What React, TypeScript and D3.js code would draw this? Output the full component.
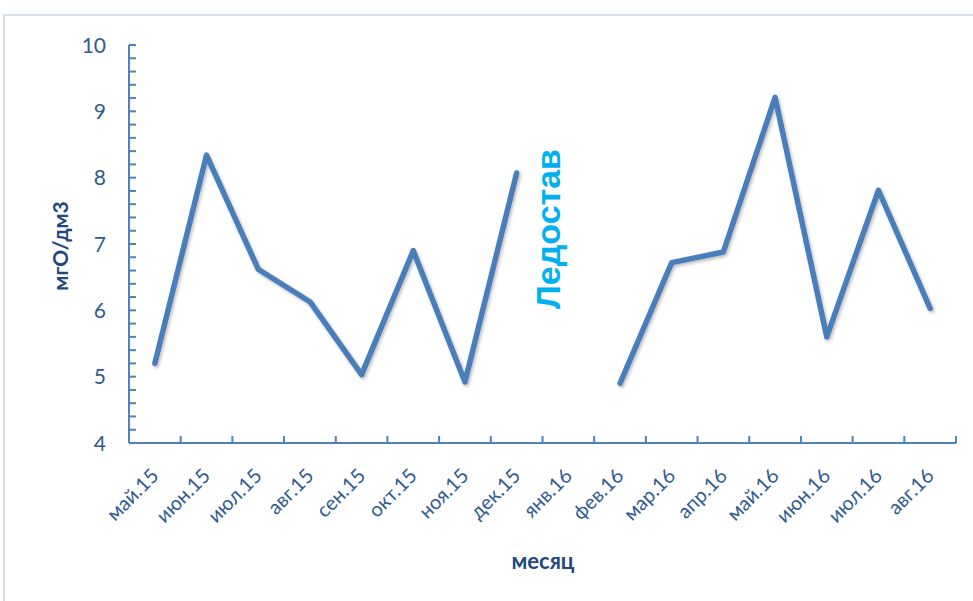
import React from "react";
import * as d3 from "d3";

const categories = [
  "май.15", "июн.15", "июл.15", "авг.15", "сен.15", "окт.15", "ноя.15", "дек.15",
  "янв.16", "фев.16", "мар.16", "апр.16", "май.16", "июн.16", "июл.16", "авг.16",
];
const values: (number | null)[] = [
  5.2, 8.34, 6.62, 6.13, 5.03, 6.9, 4.92, 8.07,
  null, 4.9, 6.72, 6.88, 9.21, 5.6, 7.81, 6.03,
];
const yTicks = [4, 5, 6, 7, 8, 9, 10];
const yTitle = "мгО/дм3";
const xTitle = "месяц";
const annotation = "Ледостав";

const W = 973;
const H = 601;
const left = 129;
const right = 956;
const top = 45;
const bottom = 443;

export default function App() {
  const x = d3.scaleBand().domain(categories).range([left, right]).padding(0);
  const y = d3.scaleLinear().domain([4, 10]).range([bottom, top]);
  const minor = d3.range(40, 101, 2).map((v) => v / 10);
  const bounds = d3.range(1, categories.length + 1).map((i) => left + i * x.step());
  const line = d3
    .line<number | null>()
    .defined((d) => d != null)
    .x((_, i) => (x(categories[i]) as number) + x.bandwidth() / 2)
    .y((d) => y(d as number));
  const axisColor = "#4f81bd";
  const labelColor = "#2f5b8f";
  const font = "Lato, 'Open Sans', sans-serif";
  return (
    <svg
      width={W}
      height={H}
      style={{ position: "absolute", left: 0, top: 0, background: "#fff" }}
    >
      <defs>
        <filter id="sh" x="-10%" y="-10%" width="120%" height="120%">
          <feDropShadow dx="1.5" dy="2" stdDeviation="1.5" floodColor="#000" floodOpacity="0.25" />
        </filter>
      </defs>
      <rect x={4} y={15} width={W + 10} height={H + 10} fill="#fff" stroke="#d6e0ef" strokeWidth={2} />
      {/* y axis */}
      <line x1={left} x2={left} y1={top} y2={bottom} stroke={axisColor} strokeWidth={2} />
      {minor.map((v) => (
        <line key={v} x1={left} x2={left + 7} y1={y(v)} y2={y(v)} stroke={axisColor} strokeWidth={2} />
      ))}
      {yTicks.map((v) => (
        <text
          key={v}
          x={106}
          y={y(v)}
          dy="0.36em"
          textAnchor="end"
          fontFamily={font}
          fontSize={21}
          fill={labelColor}
        >
          {v}
        </text>
      ))}
      {/* x axis */}
      <line x1={left} x2={right} y1={bottom} y2={bottom} stroke={axisColor} strokeWidth={2} />
      {bounds.map((b, i) => (
        <line key={i} x1={b} x2={b} y1={bottom} y2={bottom - 7} stroke={axisColor} strokeWidth={2} />
      ))}
      {categories.map((c) => {
        const cx = (x(c) as number) + x.bandwidth() / 2;
        return (
          <text
            key={c}
            transform={`translate(${cx + 5},${477}) rotate(-45)`}
            textAnchor="end"
            fontFamily={font}
            fontSize={20}
            fill={labelColor}
          >
            {c}
          </text>
        );
      })}
      {/* line */}
      <path
        d={line(values) || ""}
        fill="none"
        stroke="#4a7ebb"
        strokeWidth={5.5}
        strokeLinecap="round"
        strokeLinejoin="round"
        filter="url(#sh)"
      />
      {/* titles */}
      <text
        x={543}
        y={569}
        textAnchor="middle"
        fontFamily={font}
        fontWeight="bold"
        fontSize={22}
        fill="#1f497d"
      >
        {xTitle}
      </text>
      <text
        transform={`translate(${68},${246}) rotate(-90)`}
        textAnchor="middle"
        fontFamily={font}
        fontWeight="bold"
        fontSize={21}
        fill="#1f497d"
      >
        {yTitle}
      </text>
      <text
        transform={`translate(${560},${229}) rotate(-90)`}
        textAnchor="middle"
        fontFamily="'Liberation Sans', Arial, sans-serif"
        fontWeight="bold"
        fontSize={34}
        fill="#00b0f0"
      >
        {annotation}
      </text>
    </svg>
  );
}
